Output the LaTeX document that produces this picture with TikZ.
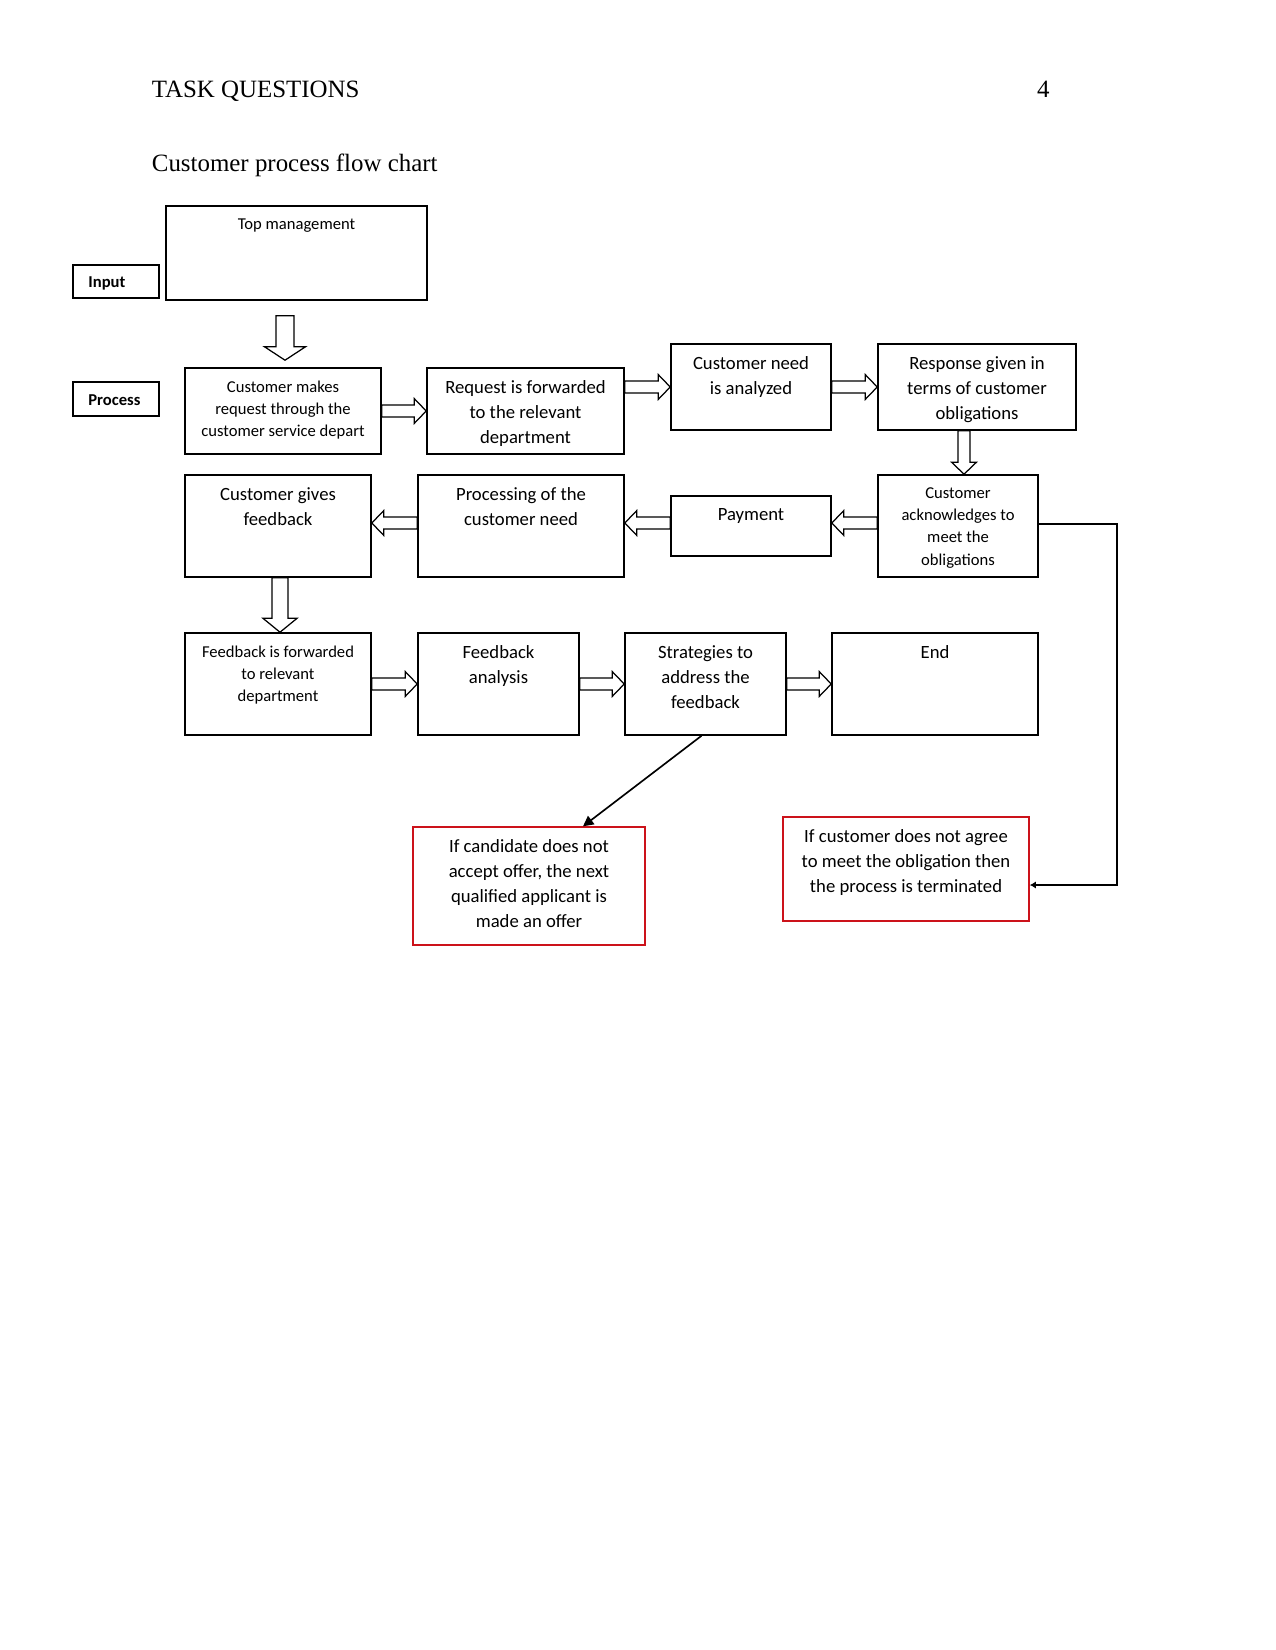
\documentclass[tikz,border=0pt]{standalone}
\usepackage{fontspec}
\setmainfont{Carlito}
\newfontfamily\headfont{Liberation Serif}
\usetikzlibrary{calc,fit,arrows.meta}

\definecolor{boxred}{RGB}{204,18,26}

\tikzset{
  box/.style={draw, line width=0.75pt, inner sep=0pt},
  redbox/.style={draw=boxred, line width=0.65pt, inner sep=0pt},
  tagbox/.style={draw, line width=1pt, inner sep=0pt},
  t9/.style={anchor=north, inner sep=0pt, align=center, font=\fontsize{9}{12}\selectfont},
  t8/.style={anchor=north, inner sep=0pt, align=center, font=\fontsize{8}{10.7}\selectfont},
  tagtext/.style={anchor=base west, inner sep=0pt, font=\fontsize{8}{10}\selectfont\bfseries},
  head/.style={inner sep=0pt, font=\headfont\fontsize{12}{14}\selectfont},
  conn/.style={line width=0.8pt},
  fat/.style n args={3}{draw, line width=0.6pt, to path={
    ($(\tikztostart)!#1!90:(\tikztotarget)$)
    -- ($(\tikztotarget)!#3!(\tikztostart)!#1!90:(\tikztotarget)$)
    -- ($(\tikztotarget)!#3!(\tikztostart)!#2!90:(\tikztotarget)$)
    -- (\tikztotarget)
    -- ($(\tikztotarget)!#3!(\tikztostart)!#2!-90:(\tikztotarget)$)
    -- ($(\tikztotarget)!#3!(\tikztostart)!#1!-90:(\tikztotarget)$)
    -- ($(\tikztostart)!#1!-90:(\tikztotarget)$) -- cycle}},
  fatS/.style={fat={2.9pt}{6pt}{5.8pt}},
  fatM/.style={fat={3.9pt}{8.2pt}{6.7pt}},
  fatB/.style={fat={4.3pt}{9.9pt}{6.5pt}}
}

\begin{document}
\begin{tikzpicture}[x=0.4818pt, y=-0.4818pt, line join=miter]
  \useasboundingbox (0,0) rectangle (1275,1650);

  % page heading
  \node[head, anchor=base west] (title) at (151.5,97.3) {TASK QUESTIONS};
  \node[head, anchor=base east] (pageno) at (1050,97.3) {4};
  \node[head, anchor=base west] (caption) at (151.5,171.7) {Customer process flow chart};

  % side tags
  \node[tagbox, fit={(73,265) (159,298)}] (input) {};
  \node[tagtext] (input-t) at (88,287.7) {Input};
  \node[tagbox, fit={(73,382) (159,416)}] (process) {};
  \node[tagtext] (process-t) at (88,406) {Process};

  % boxes
  \node[box, fit={(166,206) (427,300)}] (top) {};
  \node[t8] (top-t) at ($(top.north)+(0,13)$) {Top management};

  \node[box, fit={(185,368) (381,454)}] (makes) {};
  \node[t8] (makes-t) at ($(makes.north)+(0,13)$) {Customer makes\\request through the\\customer service depart};

  \node[box, fit={(427,368) (624,454)}] (forward) {};
  \node[t9] (forward-t) at ($(forward.north)+(0,13)$) {Request is forwarded\\to the relevant\\department};

  \node[box, fit={(671,344) (831,430)}] (analyze) {};
  \node[t9] (analyze-t) at ($(analyze.north)+(0,13)$) {Customer need\\is analyzed};

  \node[box, fit={(878,344) (1076,430)}] (response) {};
  \node[t9] (response-t) at ($(response.north)+(0,13)$) {Response given in\\terms of customer\\obligations};

  \node[box, fit={(878,475) (1038,577)}] (ack) {};
  \node[t8] (ack-t) at ($(ack.north)+(0,13)$) {Customer\\acknowledges to\\meet the\\obligations};

  \node[box, fit={(671,496) (831,556)}] (pay) {};
  \node[t9] (pay-t) at ($(pay.north)+(0,13)$) {Payment};

  \node[box, fit={(418,475) (624,577)}] (processing) {};
  \node[t9] (processing-t) at ($(processing.north)+(0,13)$) {Processing of the\\customer need};

  \node[box, fit={(185,475) (371,577)}] (gives) {};
  \node[t9] (gives-t) at ($(gives.north)+(0,13)$) {Customer gives\\feedback};

  \node[box, fit={(185,633) (371,735)}] (fbfwd) {};
  \node[t8] (fbfwd-t) at ($(fbfwd.north)+(0,13)$) {Feedback is forwarded\\to relevant\\department};

  \node[box, fit={(418,633) (579,735)}] (fbanalysis) {};
  \node[t9] (fbanalysis-t) at ($(fbanalysis.north)+(0,13)$) {Feedback\\analysis};

  \node[box, fit={(625,633) (786,735)}] (strategy) {};
  \node[t9] (strategy-t) at ($(strategy.north)+(0,13)$) {Strategies to\\address the\\feedback};

  \node[box, fit={(832,633) (1038,735)}] (finish) {};
  \node[t9] (finish-t) at ($(finish.north)+(0,13)$) {End};

  \node[redbox, fit={(413,827) (645,945)}] (candidate) {};
  \node[t9] (candidate-t) at ($(candidate.north)+(0,13)$) {If candidate does not\\accept offer, the next\\qualified applicant is\\made an offer};

  \node[redbox, fit={(783,817) (1029,921)}] (terminate) {};
  \node[t9] (terminate-t) at ($(terminate.north)+(0,13)$) {If customer does not agree\\to meet the obligation then\\the process is terminated};

  % block arrows
  \draw[fatB] ($(makes.north |- top.south)+(2,15)$) to ($(makes.north)+(2,-7)$);
  \draw[fatS] (makes.east) to (forward.west);
  \draw[fatS] (forward.east |- analyze.west) to (analyze.west);
  \draw[fatS] (analyze.east) to (response.west);
  \draw[fatS] ($(ack.north |- response.south)+(6,0)$) to ($(ack.north)+(6,0)$);
  \draw[fatS] ($(ack.west)+(0,-3)$) to ($(pay.east)+(0,-3)$);
  \draw[fatS] ($(pay.west)+(0,-3)$) to ($(pay.west -| processing.east)+(0,-3)$);
  \draw[fatS] ($(processing.west)+(0,-3)$) to ($(gives.east)+(0,-3)$);
  \draw[fatM] ($(gives.south)+(2,0)$) to ($(fbfwd.north)+(2,0)$);
  \draw[fatS] (fbfwd.east) to (fbanalysis.west);
  \draw[fatS] (fbanalysis.east) to (strategy.west);
  \draw[fatS] (strategy.east) to (finish.west);

  % side branches
  \coordinate (candidate-in) at ($(candidate.north)+(54,0)$);
  \draw[conn, -{Triangle[length=5pt,width=5pt]}] ($(strategy.south)+(-4,0)$) -- (candidate-in);
  \draw[conn, -{Latex[length=3pt,width=3.5pt]}] ($(ack.east)+(0,-2)$) -- ++(78,0) |- ($(terminate.east)+(0,16)$);
\end{tikzpicture}
\end{document}
